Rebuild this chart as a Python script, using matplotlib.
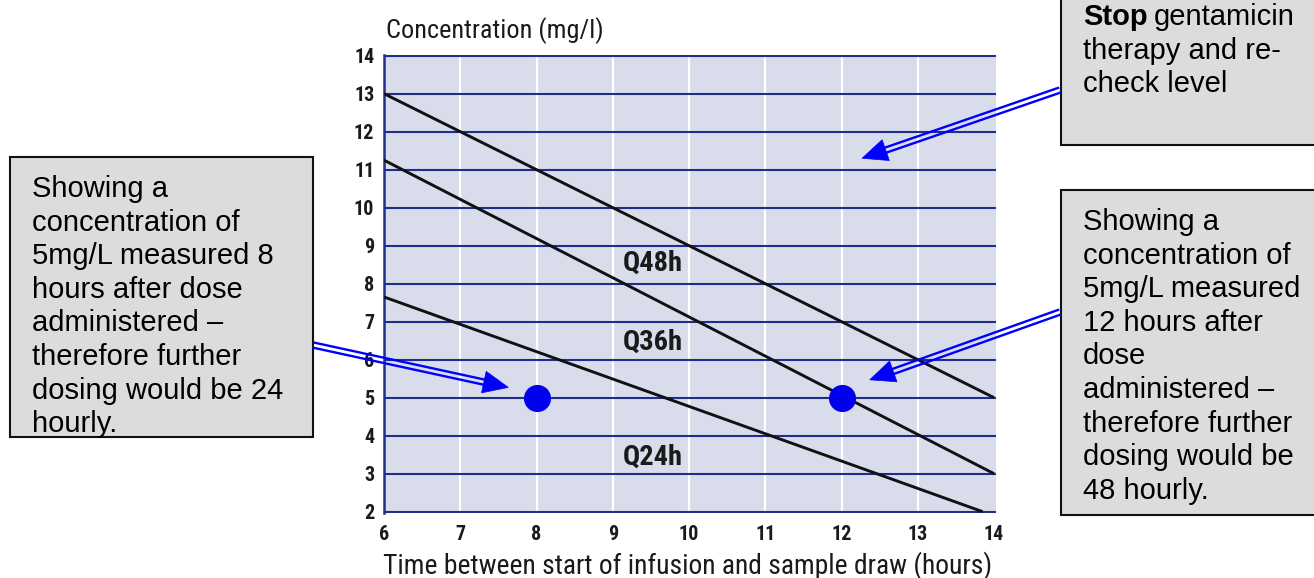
import matplotlib.pyplot as plt
import numpy as np
from matplotlib import font_manager as fm
from matplotlib.patches import Rectangle, Polygon

# nomogram lines (hours, mg/l)
q48_hours = [6, 14]
q48_conc = [13, 5]
q36_hours = [6, 14]
q36_conc = [11.25, 3]
q24_hours = [6, 13.85]
q24_conc = [7.65, 2]

zone_labels = ['Q48h', 'Q36h', 'Q24h']
zone_label_y = [8.55, 6.47, 3.44]
zone_label_x = 9.53

sample_hours = [8, 12]
sample_conc = [5, 5]

x_ticks = list(range(6, 15))
y_ticks = list(range(2, 15))

# pick a condensed face if there is one
installed = {f.name for f in fm.fontManager.ttflist}
cond_stretch = 'normal'
cond = None
for nm in ['Liberation Sans Narrow', 'Roboto Condensed', 'Open Sans Condensed',
           'Noto Sans Condensed', 'DejaVu Sans Condensed']:
    if nm in installed:
        cond = nm
        break
if cond is None:
    for nm in ['Noto Sans', 'Open Sans', 'Roboto', 'Inter']:
        if any(f.name == nm and f.stretch in ('condensed', 'semi-condensed', 'extra-condensed', 500)
               for f in fm.fontManager.ttflist):
            cond = nm
            cond_stretch = 'condensed'
            break
if cond is None:
    cond = 'DejaVu Sans'
narrow = [cond, 'DejaVu Sans']
arial = ['Liberation Sans', 'DejaVu Sans']

W, H = 1314, 578
fig = plt.figure(figsize=(W / 100, H / 100), dpi=100)
fig.set_facecolor('white')
renderer = fig.canvas.get_renderer()


def fit_width(t, target):
    w = t.get_window_extent(renderer).width
    t.set_fontsize(t.get_fontsize() * target / w)


ax = fig.add_axes([384 / W, 1 - 512.8 / H, (996.3 - 384) / W, (512.8 - 54.9) / H])
ax.set_facecolor('#d9dcea')
ax.set_xlim(6, 14.03)
ax.set_ylim(1.97, 14.02)
navy = '#1f2d8c'
for v in x_ticks[1:-1]:
    ax.axvline(v, color='white', lw=1.6, zorder=1)
for v in y_ticks:
    ax.axhline(v, color=navy, lw=1.5, zorder=2)
for s in ['top', 'right', 'bottom']:
    ax.spines[s].set_visible(False)
ax.spines['left'].set_color(navy)
ax.spines['left'].set_linewidth(1.8)

ax.set_xticks(x_ticks)
ax.set_yticks(y_ticks)
ax.tick_params(length=0)
ax.tick_params(axis='x', pad=9)
ax.tick_params(axis='y', pad=7)
for lab in ax.get_xticklabels() + ax.get_yticklabels():
    lab.set_family(narrow)
    lab.set_stretch(cond_stretch)
    lab.set_fontweight('bold')
    lab.set_fontsize(14.5 if cond != 'DejaVu Sans' else 12.5)
    lab.set_color('#1a1a1a')

for hx, cy in [(q48_hours, q48_conc), (q36_hours, q36_conc), (q24_hours, q24_conc)]:
    ax.plot(hx, cy, color='#111111', lw=2.1, zorder=3, solid_capstyle='butt')

for lab, ly in zip(zone_labels, zone_label_y):
    t = ax.text(zone_label_x, ly, lab, ha='center', va='center', family=narrow,
                stretch=cond_stretch, fontweight='bold', fontsize=15, color='#1a1a1a', zorder=4)
    fit_width(t, 60)

ax.plot(sample_hours, sample_conc, 'o', color='#0000ee', markersize=18.5, zorder=5)

# overlay in pixel coordinates for labels and callouts
ov = fig.add_axes([0, 0, 1, 1], zorder=10)
ov.set_xlim(0, W)
ov.set_ylim(H, 0)
ov.axis('off')
ov.patch.set_alpha(0)

t = ov.text(386, 31, 'Concentration (mg/l)', ha='left', va='center', family=narrow,
            stretch=cond_stretch, fontsize=17, color='#1a1a1a')
fit_width(t, 217)
t = ov.text(688, 566, 'Time between start of infusion and sample draw (hours)', ha='center',
            va='center', family=narrow, stretch=cond_stretch, fontsize=17, color='#1a1a1a')
fit_width(t, 610)


def to_px(x, y):
    d = ax.transData.transform((x, y))
    return ov.transData.inverted().transform(d)


def double_arrow(p0, p1, col='#0000ff'):
    p0 = np.array(p0, float)
    p1 = np.array(p1, float)
    d = p1 - p0
    u = d / np.hypot(*d)
    n = np.array([-u[1], u[0]])
    head_len, head_w = 25, 11
    base = p1 - u * head_len
    for off in (-2.6, 2.6):
        a = p0 + n * off
        b = base + n * off + u * 2
        ov.plot([a[0], b[0]], [a[1], b[1]], color=col, lw=1.7, solid_capstyle='butt')
    ov.add_patch(Polygon([p1, base + n * head_w, base - n * head_w], closed=True,
                         facecolor=col, edgecolor=col, lw=0.5))


LS = 1.255


def callout(x0, y0, x1, y1, lines, ty):
    ov.add_patch(Rectangle((x0, y0), x1 - x0, y1 - y0, facecolor='#dcdcdc',
                           edgecolor='#111111', lw=1.5))
    ov.text(x0 + 22, ty, '\n'.join(lines), ha='left', va='top', family=arial,
            fontsize=21, color='black', linespacing=LS)


callout(10, 157, 313, 437,
        ['Showing a', 'concentration of', '5mg/L measured 8', 'hours after dose',
         'administered \u2013', 'therefore further', 'dosing would be 24', 'hourly.'], 175)
callout(1061, 190, 1330, 515,
        ['Showing a', 'concentration of', '5mg/L measured', '12 hours after', 'dose',
         'administered \u2013', 'therefore further', 'dosing would be', '48 hourly.'], 208)

ov.add_patch(Rectangle((1061, -10), 300, 155, facecolor='#dcdcdc', edgecolor='#111111', lw=1.5))
stop = ov.text(1083, 3, 'Stop', ha='left', va='top', family=arial, fontsize=21,
               fontweight='bold')
bb = stop.get_window_extent(renderer)
sx = ov.transData.inverted().transform((bb.x1, bb.y1))[0]
ov.text(sx + 6, 3, 'gentamicin', ha='left', va='top', family=arial, fontsize=21)
ov.text(1083, 3 + 33.8, 'therapy and re-\ncheck level', ha='left', va='top', family=arial,
        fontsize=21, linespacing=LS)

double_arrow((313, 345), to_px(7.63, 5.27))
double_arrow((1060, 312), to_px(12.37, 5.47))
double_arrow((1060, 90), to_px(12.27, 11.3))

fig.savefig('out.png', dpi=100, facecolor='white')
